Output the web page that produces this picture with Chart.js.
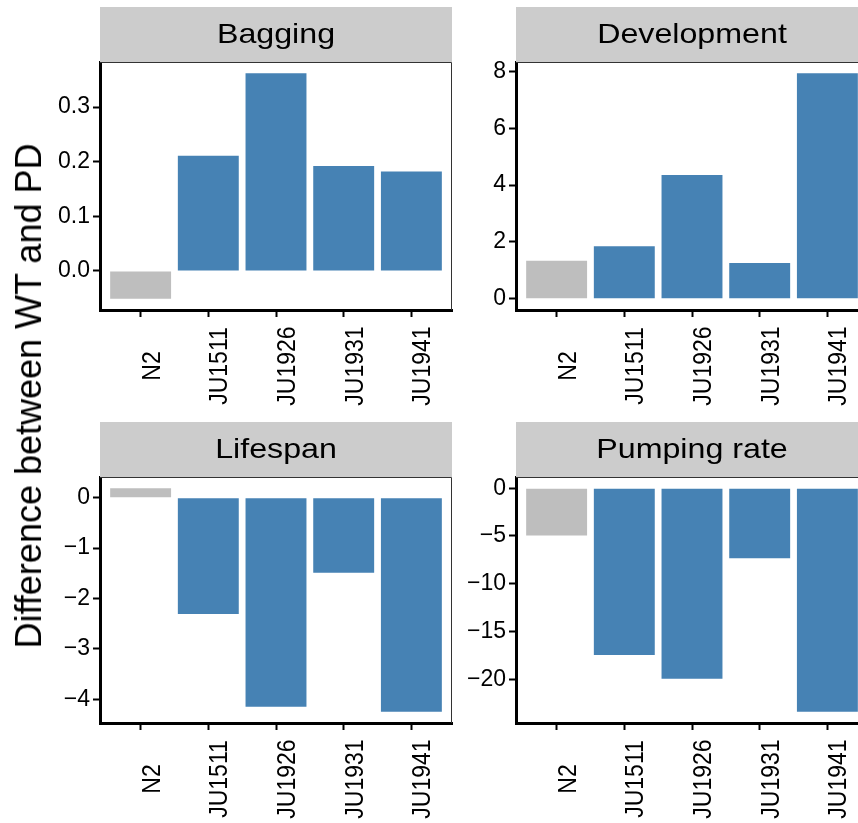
<!DOCTYPE html>
<html>
<head>
<meta charset="utf-8">
<script src="https://cdn.jsdelivr.net/npm/chart.js@4.4.1/dist/chart.umd.min.js"></script>
<style>
  body { margin: 0; width: 858px; height: 823px; overflow: hidden; position: relative; background: #fff; font-family: "Liberation Sans", Arial, sans-serif; }
  canvas { position: absolute; }
  #ytitle { position: absolute; left: 29px; top: 396px; transform: translate(-50%, -50%) rotate(-90deg); white-space: nowrap; font-size: 36px; color: #000; }
</style>
</head>
<body>
<canvas id="bagging" width="460" height="410" style="left:0px;top:0px"></canvas>
<canvas id="development" width="420" height="410" style="left:460px;top:0px"></canvas>
<canvas id="lifespan" width="460" height="408" style="left:0px;top:415px"></canvas>
<canvas id="pumping" width="420" height="408" style="left:460px;top:415px"></canvas>
<div id="ytitle">Difference between WT and PD</div>
<script>
// données
var strains = ['N2', 'JU1511', 'JU1926', 'JU1931', 'JU1941'];
var bagging = [-0.051, 0.211, 0.362, 0.192, 0.182];
var development = [1.34, 1.85, 4.36, 1.26, 7.94];
var lifespan = [0.19, -2.31, -4.15, -1.49, -4.25];
var pumping = [-4.95, -17.45, -19.93, -7.32, -23.4];

// graduations
var baggingTicks = [0, 0.1, 0.2, 0.3];
var developmentTicks = [0, 2, 4, 6, 8];
var lifespanTicks = [0, -1, -2, -3, -4];
var pumpingTicks = [0, -5, -10, -15, -20];

Chart.defaults.font.family = '"Liberation Sans", Arial, sans-serif';

// bandeau gris + bordure fine + étiquettes x
var stripPlugin = {
    id: 'strip',
    afterDraw: function (chart, args, opts) {
        var ctx = chart.ctx;
        var a = chart.chartArea;
        ctx.save();
        ctx.fillStyle = '#CCCCCC';
        ctx.fillRect(a.left, a.top - 55, a.right - a.left, 55);
        ctx.strokeStyle = '#333';
        ctx.lineWidth = 1;
        ctx.beginPath();
        ctx.moveTo(a.left, a.top + 0.5);
        ctx.lineTo(a.right - 0.5, a.top + 0.5);
        ctx.lineTo(a.right - 0.5, a.bottom);
        ctx.stroke();
        ctx.fillStyle = '#000';
        ctx.font = '28px "Liberation Sans"';
        ctx.textAlign = 'center';
        ctx.textBaseline = 'middle';
        ctx.translate((a.left + a.right) / 2, a.top - 27);
        ctx.scale(1.15, 1);
        ctx.fillText(opts.text, 0, 0);
        ctx.restore();

        var xs = chart.scales.x;
        ctx.save();
        ctx.font = '23px "Liberation Sans"';
        ctx.fillStyle = '#000';
        ctx.textAlign = 'center';
        ctx.textBaseline = 'alphabetic';
        strains.forEach(function (name, i) {
            ctx.save();
            ctx.translate(xs.getPixelForValue(i) + 19, a.bottom + 56);
            ctx.rotate(-Math.PI / 2);
            ctx.scale(1, 1.15);
            ctx.fillText(name, 0, 0);
            ctx.restore();
        });
        ctx.restore();
    }
};

function makePanel(id, title, values, ticks, decimals, yWidth, padRight) {
    var lo = Math.min(0, Math.min.apply(null, values));
    var hi = Math.max(0, Math.max.apply(null, values));
    var pad = (hi - lo) * 0.05;
    var axisGrid = { display: true, drawOnChartArea: false, drawTicks: true, tickLength: 7, tickWidth: 2, tickColor: '#000', offset: false };
    var axisBorder = { display: true, color: '#000', width: 3 };

    return new Chart(document.getElementById(id), {
        type: 'bar',
        data: {
            datasets: [{
                data: values.map(function (v, i) { return { x: i, y: v }; }),
                backgroundColor: strains.map(function (s) { return s === 'N2' ? '#BEBEBE' : '#4682B4'; }),
                barPercentage: 0.9,
                categoryPercentage: 1
            }]
        },
        options: {
            responsive: false,
            animation: false,
            events: [],
            layout: { padding: { top: 62, right: padRight, left: 0, bottom: 0 } },
            plugins: {
                legend: { display: false },
                tooltip: { enabled: false },
                strip: { text: title }
            },
            scales: {
                x: {
                    type: 'linear',
                    min: -0.6,
                    max: strains.length - 0.4,
                    offset: false,
                    afterBuildTicks: function (s) { s.ticks = strains.map(function (n, i) { return { value: i }; }); },
                    afterFit: function (s) { s.height = 100; },
                    ticks: { display: false },
                    grid: axisGrid,
                    border: axisBorder
                },
                y: {
                    min: lo - pad,
                    max: hi + pad,
                    afterBuildTicks: function (s) { s.ticks = ticks.map(function (v) { return { value: v }; }); },
                    afterFit: function (s) { s.width = yWidth; },
                    ticks: {
                        color: '#000',
                        padding: 3,
                        font: { size: 23 },
                        callback: function (v) { return Number(v).toFixed(decimals).replace('-', '\u2212'); }
                    },
                    grid: axisGrid,
                    border: axisBorder
                }
            }
        },
        plugins: [stripPlugin]
    });
}

makePanel('bagging', 'Bagging', bagging, baggingTicks, 1, 100, 8);
makePanel('development', 'Development', development, developmentTicks, 0, 56, 12);
makePanel('lifespan', 'Lifespan', lifespan, lifespanTicks, 0, 100, 8);
makePanel('pumping', 'Pumping rate', pumping, pumpingTicks, 0, 56, 12);
</script>
</body>
</html>
